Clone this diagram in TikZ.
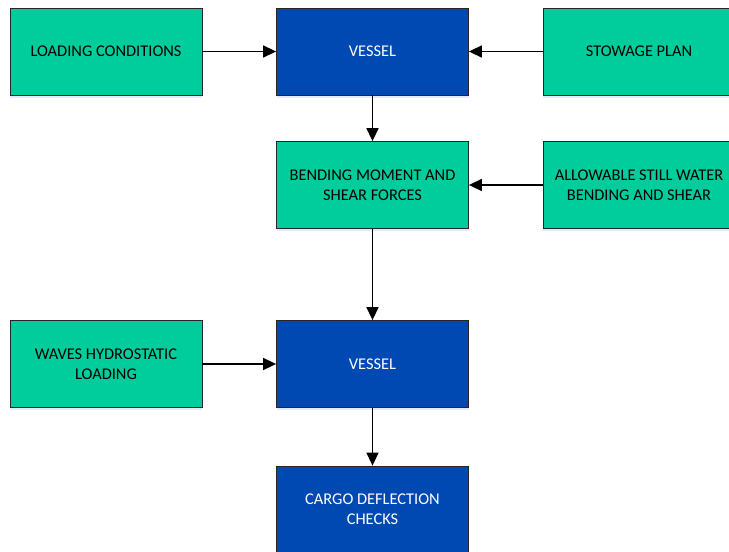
\documentclass[tikz,border=0pt]{standalone}
\usepackage{fontspec}
\setmainfont{Carlito}
\usetikzlibrary{arrows.meta,shadows}
\definecolor{boxgreen}{RGB}{0,204,156}
\definecolor{boxblue}{RGB}{0,72,178}
\begin{document}
\begin{tikzpicture}[x=1pt,y=-1pt,
  every node/.style={font=\fontsize{16.4}{20}\selectfont, align=center, inner sep=0pt},
  greenbox/.style={draw=black!85, line width=0.8pt, fill=boxgreen, minimum width=192pt, minimum height=87pt,
    drop shadow={shadow xshift=0pt, shadow yshift=-2.5pt, opacity=0.18, fill=blue!50}},
  bluebox/.style={greenbox, fill=boxblue, text=white},
  link/.style={line width=1.5pt, -{Triangle[length=13pt,width=12pt]}}]
\clip (0,0) rectangle (729,552);
% top row
\node [greenbox] (loading) at (106,51.5) {LOADING CONDITIONS};
\node [bluebox] (vessel) at (372.5,51.5) {VESSEL};
\node [greenbox] (stowage) at (639,51.5) {STOWAGE PLAN};
% middle row
\node [greenbox] (bending) at (372.5,185) {BENDING MOMENT AND\\SHEAR FORCES};
\node [greenbox] (allowable) at (639,185) {ALLOWABLE STILL WATER\\BENDING AND SHEAR};
% lower rows
\node [greenbox] (waves) at (106,364) {WAVES HYDROSTATIC\\LOADING};
\node [bluebox] (vesseltwo) at (372.5,364) {VESSEL};
\node [bluebox] (cargo) at (372.5,509.5) {CARGO DEFLECTION\\CHECKS};
% connectors
\draw [link] (loading) -- (vessel);
\draw [link] (stowage) -- (vessel);
\draw [link] (vessel) -- (bending);
\draw [link] (allowable) -- (bending);
\draw [link] (bending) -- (vesseltwo);
\draw [link] (waves) -- (vesseltwo);
\draw [link] (vesseltwo) -- (cargo);
\end{tikzpicture}
\end{document}
